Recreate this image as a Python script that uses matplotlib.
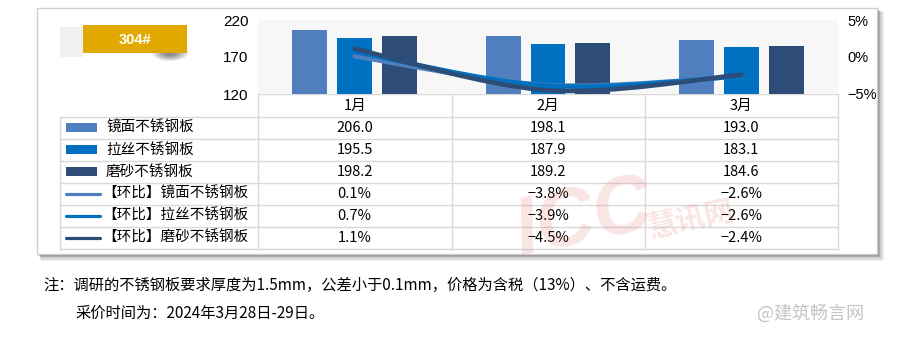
import numpy as np
import matplotlib
matplotlib.use('Agg')
import matplotlib.pyplot as plt
from matplotlib.patches import Rectangle, PathPatch, Ellipse
from matplotlib.path import Path
from matplotlib.lines import Line2D

plt.rcParams['font.family'] = ['Noto Sans CJK SC', 'DejaVu Sans']

# ---------------- data ----------------
months = ['1月', '2月', '3月']
series_names = ['镜面不锈钢板', '拉丝不锈钢板', '磨砂不锈钢板']
price_mirror = [206.0, 198.1, 193.0]
price_brushed = [195.5, 187.9, 183.1]
price_frosted = [198.2, 189.2, 184.6]
mom_mirror = [0.1, -3.8, -2.6]
mom_brushed = [0.7, -3.9, -2.6]
mom_frosted = [1.1, -4.5, -2.4]
left_ticks = [120, 170, 220]
right_ticks = [-5, 0, 5]
badge_text = '304#'
note_line1 = '注：调研的不锈钢板要求厚度为1.5mm，公差小于0.1mm，价格为含税（13%）、不含运费。'
note_line2 = '采价时间为：2024年3月28日-29日。'
watermark_a = 'ICC'
watermark_b = '慧讯网'
watermark2 = '@建筑畅言网'

colors = ['#4F7FBE', '#0070C0', '#2D4D78']
prices = [price_mirror, price_brushed, price_frosted]
moms = [mom_mirror, mom_brushed, mom_frosted]

W, H = 900, 344
fig = plt.figure(figsize=(W / 100, H / 100), dpi=100)
fig.patch.set_facecolor('white')

# overlay in pixel coordinates for frame/table
bg = fig.add_axes([0, 0, 1, 1], zorder=0)
bg.set_xlim(0, W)
bg.set_ylim(H, 0)
bg.axis('off')

# outer box shadow + frame
for k, a in enumerate([0.06, 0.08, 0.10, 0.12, 0.14]):
    off = 7 - k * 1.3
    bg.add_patch(Rectangle((37 + off * 0.6, 8 + off * 0.6), 840 + off * 0.4, 246 + off * 0.4,
                           facecolor='black', alpha=a, edgecolor='none', zorder=1))
bg.add_patch(Rectangle((37, 8), 840, 246, facecolor='white', edgecolor='#d0d0d0',
                       lw=1, zorder=2))

# badge
for k in range(7):
    bg.add_patch(Ellipse((170, 53), 36 - 4 * k, 16 - 1.8 * k, facecolor='black',
                         alpha=0.08, edgecolor='none', zorder=3))
bg.add_patch(Rectangle((60, 27), 23, 30, facecolor='#f0f0f0', edgecolor='none', zorder=4))
bg.add_patch(Rectangle((83, 25), 104, 28, facecolor='#E1A900', edgecolor='none', zorder=4))
bg.text(135, 40, badge_text, color='white', fontsize=10.5, fontweight='bold',
        ha='center', va='center', zorder=5, family=['Liberation Sans', 'DejaVu Sans'])

# table grid
grid_c = '#d9d9d9'
tx0, tx1 = 60, 838
col_x = [258, 451.5, 644.5, 838]
row0 = 116.5
rh = 22
n_rows = 6
for i in range(n_rows + 1):
    y = row0 + rh * i
    bg.add_line(Line2D([tx0, tx1], [y, y], color=grid_c, lw=1, zorder=3))
bg.add_line(Line2D([tx0, tx0], [row0, row0 + rh * n_rows], color=grid_c, lw=1, zorder=3))
for x in col_x:
    bg.add_line(Line2D([x, x], [94, row0 + rh * n_rows], color=grid_c, lw=1, zorder=3))
bg.add_line(Line2D([258, 838], [94, 94], color=grid_c, lw=1, zorder=3))

col_centers = [(col_x[j] + col_x[j + 1]) / 2 for j in range(3)]
for j, m in enumerate(months):
    bg.text(col_centers[j], 105.5, m, fontsize=10.5, ha='center', va='center', zorder=5)

def fmt_pct(v):
    return f'{v:.1f}%'.replace('-', '−')

for i in range(3):
    yc = row0 + rh * i + rh / 2
    bg.add_patch(Rectangle((66, yc - 4.5), 31, 9, facecolor=colors[i], edgecolor='none', zorder=4))
    bg.text(106, yc, series_names[i], fontsize=10.5, ha='left', va='center', zorder=5)
    for j in range(3):
        bg.text(col_centers[j], yc, f'{prices[i][j]:.1f}', fontsize=10.5,
                ha='center', va='center', zorder=5)
for i in range(3):
    yc = row0 + rh * (i + 3) + rh / 2
    bg.add_line(Line2D([66, 100], [yc, yc], color=colors[i], lw=2.3,
                       solid_capstyle='round', zorder=4))
    bg.text(102, yc, '【环比】' + series_names[i], fontsize=10.5, ha='left', va='center', zorder=5)
    for j in range(3):
        bg.text(col_centers[j], yc, fmt_pct(moms[i][j]), fontsize=10.5,
                ha='center', va='center', zorder=5)

# notes
bg.text(43, 285, note_line1, fontsize=11, ha='left', va='center', zorder=5)
bg.text(75, 313, note_line2, fontsize=11, ha='left', va='center', zorder=5)

# ---------------- chart ----------------
ax = fig.add_axes([258 / W, 1 - 94 / H, 580 / W, 74 / H], zorder=1)
ax.set_facecolor('#f7f7f7')
x = np.arange(len(months))
offsets = [-0.232, 0, 0.232]
for i in range(3):
    ax.bar(x + offsets[i], np.array(prices[i]) - left_ticks[0], width=0.18,
           bottom=left_ticks[0], color=colors[i], zorder=2)
ax.set_xlim(-0.5, 2.5)
ax.set_ylim(left_ticks[0], left_ticks[-1])
ax.set_yticks(left_ticks)
ax.set_yticklabels([str(t) for t in left_ticks], fontsize=11,
                   family=['Liberation Sans', 'DejaVu Sans'])
ax.set_xticks([])
ax.tick_params(axis='y', length=0, pad=7)
for s in ax.spines.values():
    s.set_visible(False)

ax2 = ax.twinx()
ax2.set_ylim(right_ticks[0], right_ticks[-1])
ax2.set_yticks(right_ticks)
ax2.set_yticklabels([f'{t}%'.replace('-', '−') for t in right_ticks], fontsize=10.5,
                    family=['Liberation Sans', 'DejaVu Sans'])
ax2.tick_params(axis='y', length=0, pad=7)
for s in ax2.spines.values():
    s.set_visible(False)

def smooth_path(xs, ys):
    pts = np.column_stack([xs, ys]).astype(float)
    n = len(pts)
    verts = [pts[0]]
    codes = [Path.MOVETO]
    for i in range(n - 1):
        p_prev = pts[max(i - 1, 0)]
        p0 = pts[i]
        p1 = pts[i + 1]
        p_next = pts[min(i + 2, n - 1)]
        c1 = p0 + (p1 - p_prev) / 6.0
        c2 = p1 - (p_next - p0) / 6.0
        verts += [c1, c2, p1]
        codes += [Path.CURVE4] * 3
    return Path(verts, codes)

for i in range(3):
    ax2.add_patch(PathPatch(smooth_path(x, moms[i]), fill=False, edgecolor=colors[i],
                            lw=3.3, capstyle='round', zorder=3 + i))

# watermarks
fig.text(508 / W, 1 - 272 / H, watermark_a, fontsize=58, fontweight='bold', fontstyle='italic',
         color='#e04848', alpha=0.14, rotation=12, ha='left', va='bottom',
         family=['Liberation Sans Narrow', 'Liberation Sans', 'DejaVu Sans'], zorder=10)
fig.text(645 / W, 1 - 243 / H, watermark_b, fontsize=21, fontweight='bold',
         color='#e04848', alpha=0.14, rotation=12, ha='left', va='bottom', zorder=10)
fig.text(757 / W, 1 - 313 / H, watermark2, fontsize=13, color='#c4c4c4',
         ha='left', va='center', zorder=10)

fig.savefig('out.png', dpi=100)
